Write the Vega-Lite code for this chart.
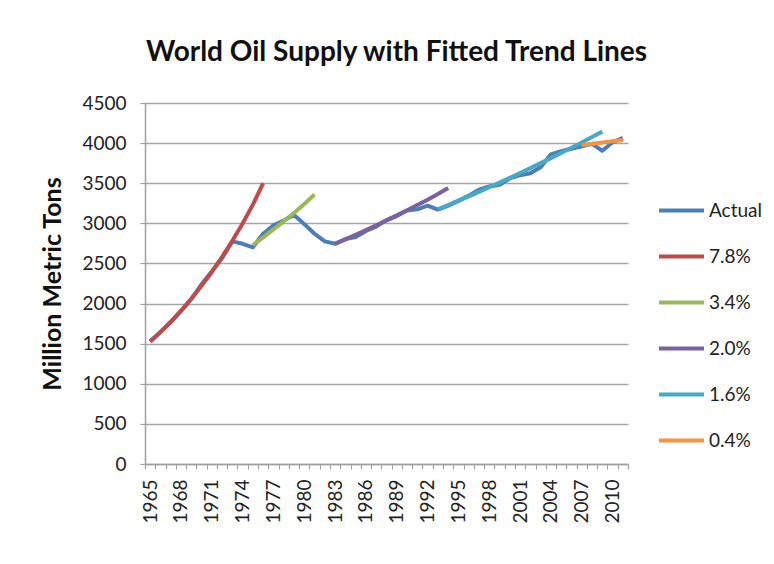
{
  "$schema": "https://vega.github.io/schema/vega-lite/v6.json",
  "width": 483,
  "height": 361,
  "autosize": {"type": "none"},
  "padding": {"left": 145, "top": 103, "right": 146, "bottom": 100},
  "background": "white",
  "title": {
    "text": "World Oil Supply with Fitted Trend Lines",
    "font": "Lato",
    "fontSize": 28,
    "fontWeight": "bold",
    "color": "#111111",
    "anchor": "middle",
    "dx": 10,
    "offset": 27
  },
  "datasets": {
    "actual": [
      {"year": 1965, "series": "Actual", "value": 1530},
      {"year": 1966, "series": "Actual", "value": 1645},
      {"year": 1967, "series": "Actual", "value": 1765},
      {"year": 1968, "series": "Actual", "value": 1905},
      {"year": 1969, "series": "Actual", "value": 2055},
      {"year": 1970, "series": "Actual", "value": 2240},
      {"year": 1971, "series": "Actual", "value": 2400},
      {"year": 1972, "series": "Actual", "value": 2565},
      {"year": 1973, "series": "Actual", "value": 2775},
      {"year": 1974, "series": "Actual", "value": 2745},
      {"year": 1975, "series": "Actual", "value": 2700},
      {"year": 1976, "series": "Actual", "value": 2870},
      {"year": 1977, "series": "Actual", "value": 2975},
      {"year": 1978, "series": "Actual", "value": 3035},
      {"year": 1979, "series": "Actual", "value": 3105},
      {"year": 1980, "series": "Actual", "value": 2990},
      {"year": 1981, "series": "Actual", "value": 2870},
      {"year": 1982, "series": "Actual", "value": 2775},
      {"year": 1983, "series": "Actual", "value": 2745},
      {"year": 1984, "series": "Actual", "value": 2805},
      {"year": 1985, "series": "Actual", "value": 2830},
      {"year": 1986, "series": "Actual", "value": 2905},
      {"year": 1987, "series": "Actual", "value": 2960},
      {"year": 1988, "series": "Actual", "value": 3040},
      {"year": 1989, "series": "Actual", "value": 3090},
      {"year": 1990, "series": "Actual", "value": 3160},
      {"year": 1991, "series": "Actual", "value": 3175},
      {"year": 1992, "series": "Actual", "value": 3220},
      {"year": 1993, "series": "Actual", "value": 3170},
      {"year": 1994, "series": "Actual", "value": 3220},
      {"year": 1995, "series": "Actual", "value": 3280},
      {"year": 1996, "series": "Actual", "value": 3345},
      {"year": 1997, "series": "Actual", "value": 3420},
      {"year": 1998, "series": "Actual", "value": 3460},
      {"year": 1999, "series": "Actual", "value": 3480},
      {"year": 2000, "series": "Actual", "value": 3560},
      {"year": 2001, "series": "Actual", "value": 3600},
      {"year": 2002, "series": "Actual", "value": 3625},
      {"year": 2003, "series": "Actual", "value": 3700},
      {"year": 2004, "series": "Actual", "value": 3860},
      {"year": 2005, "series": "Actual", "value": 3900},
      {"year": 2006, "series": "Actual", "value": 3930},
      {"year": 2007, "series": "Actual", "value": 3960},
      {"year": 2008, "series": "Actual", "value": 3990},
      {"year": 2009, "series": "Actual", "value": 3905},
      {"year": 2010, "series": "Actual", "value": 4010},
      {"year": 2011, "series": "Actual", "value": 4065}
    ],
    "trends": [
      {"year": 1965, "series": "7.8%", "value": 1525},
      {"year": 1966, "series": "7.8%", "value": 1644},
      {"year": 1967, "series": "7.8%", "value": 1773},
      {"year": 1968, "series": "7.8%", "value": 1911},
      {"year": 1969, "series": "7.8%", "value": 2060},
      {"year": 1970, "series": "7.8%", "value": 2221},
      {"year": 1971, "series": "7.8%", "value": 2394},
      {"year": 1972, "series": "7.8%", "value": 2581},
      {"year": 1973, "series": "7.8%", "value": 2782},
      {"year": 1974, "series": "7.8%", "value": 2999},
      {"year": 1975, "series": "7.8%", "value": 3233},
      {"year": 1976, "series": "7.8%", "value": 3500},
      {"year": 1975, "series": "3.4%", "value": 2730},
      {"year": 1976, "series": "3.4%", "value": 2825},
      {"year": 1977, "series": "3.4%", "value": 2925},
      {"year": 1978, "series": "3.4%", "value": 3025},
      {"year": 1979, "series": "3.4%", "value": 3130},
      {"year": 1980, "series": "3.4%", "value": 3240},
      {"year": 1981, "series": "3.4%", "value": 3360},
      {"year": 1983, "series": "2.0%", "value": 2745},
      {"year": 1984, "series": "2.0%", "value": 2800},
      {"year": 1985, "series": "2.0%", "value": 2858},
      {"year": 1986, "series": "2.0%", "value": 2916},
      {"year": 1987, "series": "2.0%", "value": 2976},
      {"year": 1988, "series": "2.0%", "value": 3037},
      {"year": 1989, "series": "2.0%", "value": 3099},
      {"year": 1990, "series": "2.0%", "value": 3163},
      {"year": 1991, "series": "2.0%", "value": 3228},
      {"year": 1992, "series": "2.0%", "value": 3295},
      {"year": 1993, "series": "2.0%", "value": 3365},
      {"year": 1994, "series": "2.0%", "value": 3440},
      {"year": 1993, "series": "1.6%", "value": 3175},
      {"year": 1994, "series": "1.6%", "value": 3228},
      {"year": 1995, "series": "1.6%", "value": 3282},
      {"year": 1996, "series": "1.6%", "value": 3337},
      {"year": 1997, "series": "1.6%", "value": 3393},
      {"year": 1998, "series": "1.6%", "value": 3450},
      {"year": 1999, "series": "1.6%", "value": 3508},
      {"year": 2000, "series": "1.6%", "value": 3567},
      {"year": 2001, "series": "1.6%", "value": 3627},
      {"year": 2002, "series": "1.6%", "value": 3688},
      {"year": 2003, "series": "1.6%", "value": 3750},
      {"year": 2004, "series": "1.6%", "value": 3813},
      {"year": 2005, "series": "1.6%", "value": 3877},
      {"year": 2006, "series": "1.6%", "value": 3942},
      {"year": 2007, "series": "1.6%", "value": 4008},
      {"year": 2008, "series": "1.6%", "value": 4075},
      {"year": 2009, "series": "1.6%", "value": 4143},
      {"year": 2007, "series": "0.4%", "value": 3975},
      {"year": 2008, "series": "0.4%", "value": 3991},
      {"year": 2009, "series": "0.4%", "value": 4007},
      {"year": 2010, "series": "0.4%", "value": 4023},
      {"year": 2011, "series": "0.4%", "value": 4039}
    ]
  },
  "encoding": {
    "x": {
      "field": "year",
      "type": "ordinal",
      "scale": {
        "type": "band",
        "paddingInner": 0,
        "paddingOuter": 0,
        "domain": [1965,1966,1967,1968,1969,1970,1971,1972,1973,1974,1975,1976,1977,1978,1979,1980,1981,1982,1983,1984,1985,1986,1987,1988,1989,1990,1991,1992,1993,1994,1995,1996,1997,1998,1999,2000,2001,2002,2003,2004,2005,2006,2007,2008,2009,2010,2011]
      },
      "axis": {
        "title": null,
        "labelAngle": -90,
        "labelAlign": "right",
        "labelBaseline": "middle",
        "labelFont": "Lato",
        "labelFontSize": 19,
        "labelColor": "#222222",
        "labelPadding": 10,
        "labelOverlap": false,
        "labelExpr": "(datum.value - 1965) % 3 == 0 ? datum.label : ''",
        "tickBand": "extent",
        "tickSize": 5,
        "tickColor": "#a0a0a0",
        "tickWidth": 1.2,
        "domainColor": "#a0a0a0",
        "domainWidth": 1.5,
        "grid": false
      }
    },
    "y": {
      "field": "value",
      "type": "quantitative",
      "scale": {"domain": [0, 4500], "nice": false},
      "axis": {
        "title": "Million Metric Tons",
        "titleFont": "Lato",
        "titleFontSize": 25,
        "titleFontWeight": "bold",
        "titleColor": "#111111",
        "titlePadding": 16,
        "values": [0,500,1000,1500,2000,2500,3000,3500,4000,4500],
        "format": "d",
        "labelFont": "Lato",
        "labelFontSize": 19,
        "labelColor": "#222222",
        "labelPadding": 14,
        "tickSize": 5,
        "tickColor": "#a0a0a0",
        "tickWidth": 1.2,
        "domainColor": "#a0a0a0",
        "domainWidth": 1.5,
        "grid": true,
        "gridColor": "#a6a6a6",
        "gridWidth": 1.5
      }
    },
    "color": {
      "field": "series",
      "type": "nominal",
      "scale": {
        "domain": ["Actual", "7.8%", "3.4%", "2.0%", "1.6%", "0.4%"],
        "range": ["#4A7EBB", "#BE4B48", "#98B954", "#7D60A0", "#46AAC5", "#F69240"]
      },
      "legend": {
        "title": null,
        "orient": "none",
        "legendX": 512,
        "legendY": 83,
        "symbolType": "stroke",
        "symbolSize": 2025,
        "symbolStrokeWidth": 4,
        "labelFont": "Lato",
        "labelFontSize": 19,
        "labelColor": "#222222",
        "labelOffset": 3,
        "rowPadding": 11
      }
    }
  },
  "layer": [
    {
      "data": {"name": "actual"},
      "mark": {"type": "line", "strokeWidth": 4, "strokeJoin": "round"}
    },
    {
      "data": {"name": "trends"},
      "mark": {"type": "line", "strokeWidth": 4, "strokeJoin": "round"}
    }
  ],
  "config": {"view": {"stroke": null}}
}
